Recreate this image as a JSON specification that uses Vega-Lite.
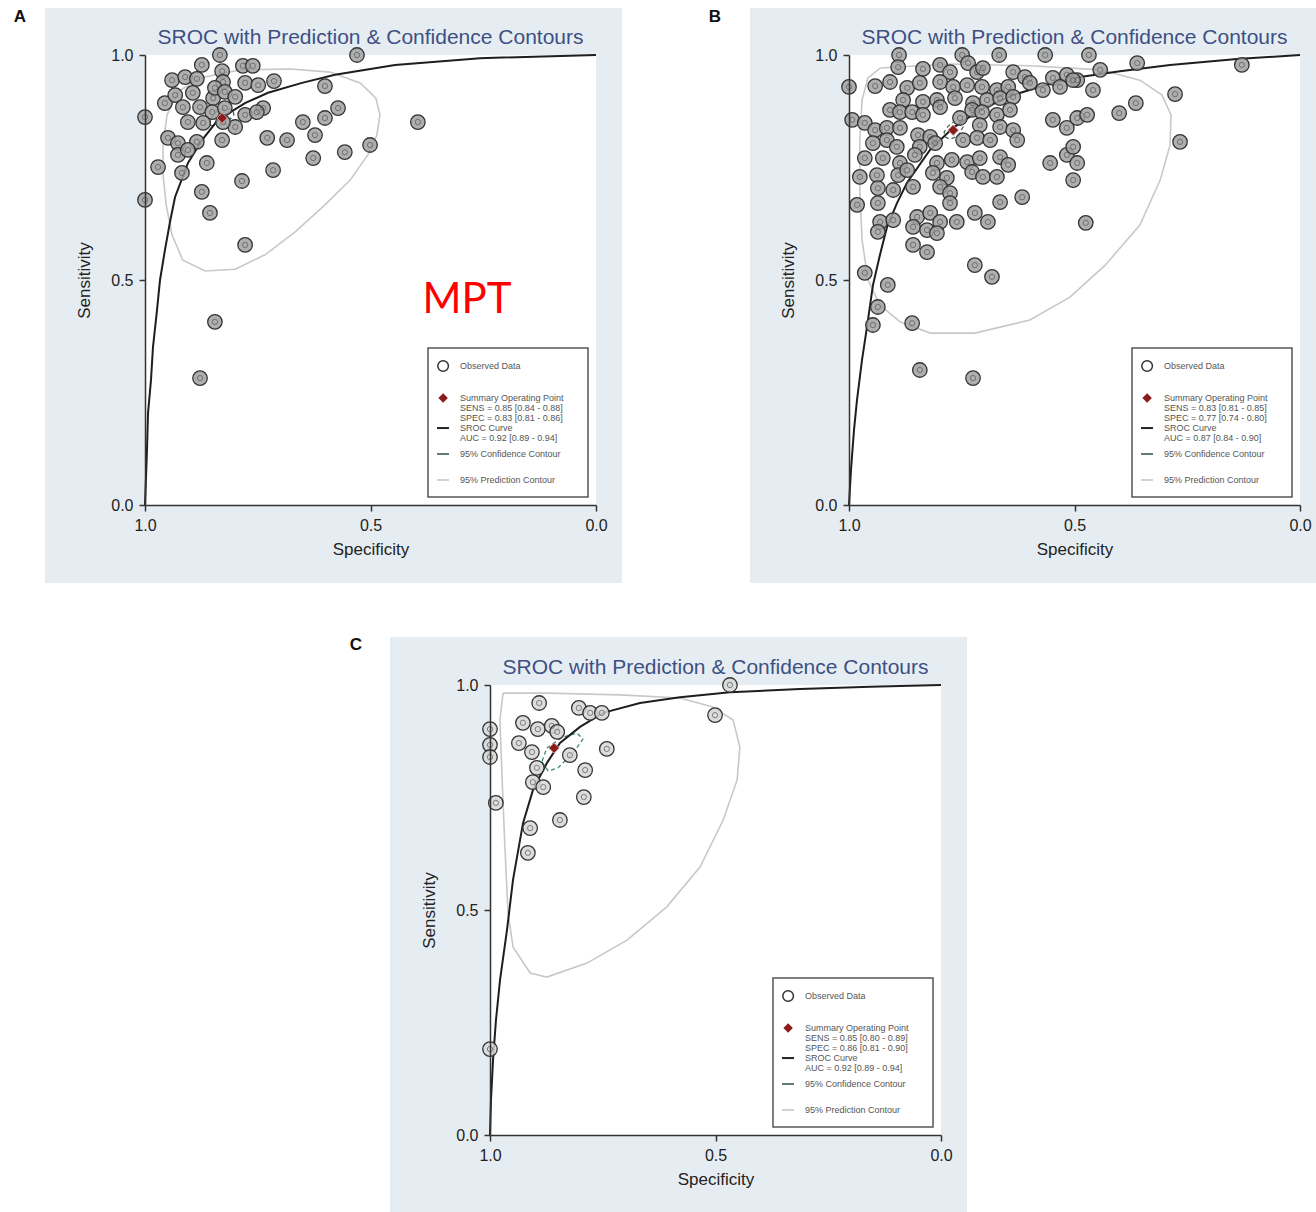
{
"$schema": "https://vega.github.io/schema/vega-lite/v6.json",
"padding": 0,
"background": "white",
"spacing": 52,
"config": {
  "view": {"stroke": null},
  "font": "Liberation Sans",
  "axis": {"domainColor": "#333", "domainWidth": 1.5, "tickColor": "#333", "tickWidth": 1.5, "tickSize": 6, "labelFontSize": 16, "labelColor": "#222", "titleFontSize": 17, "titleFontWeight": "normal", "titleColor": "#222", "grid": false, "labelFlush": false, "labelOverlap": false, "labelFont": "Liberation Sans", "titleFont": "Liberation Sans"},
  "axisX": {"labelPadding": 6, "titlePadding": 8},
  "axisY": {"labelPadding": 6, "titlePadding": 17, "labelAngle": 0}
},
"datasets": {
  "ptsA": [
    {"spec":0.834,"sens":1.0},{"spec":0.530,"sens":1.0},{"spec":0.874,"sens":0.978},{"spec":0.783,"sens":0.976},{"spec":0.761,"sens":0.976},{"spec":0.829,"sens":0.964},{"spec":0.940,"sens":0.944},{"spec":0.911,"sens":0.951},{"spec":0.885,"sens":0.947},{"spec":0.827,"sens":0.940},{"spec":0.778,"sens":0.938},{"spec":0.749,"sens":0.933},{"spec":0.714,"sens":0.942},{"spec":0.601,"sens":0.931},{"spec":0.956,"sens":0.893},{"spec":0.933,"sens":0.911},{"spec":0.894,"sens":0.916},{"spec":0.916,"sens":0.884},{"spec":0.878,"sens":0.884},{"spec":0.849,"sens":0.904},{"spec":0.845,"sens":0.927},{"spec":0.823,"sens":0.918},{"spec":0.800,"sens":0.907},{"spec":0.851,"sens":0.873},{"spec":0.823,"sens":0.882},{"spec":0.778,"sens":0.867},{"spec":0.738,"sens":0.882},{"spec":0.752,"sens":0.873},{"spec":0.905,"sens":0.851},{"spec":0.800,"sens":0.840},{"spec":0.827,"sens":0.851},{"spec":0.871,"sens":0.849},{"spec":0.572,"sens":0.882},{"spec":0.601,"sens":0.860},{"spec":0.650,"sens":0.851},{"spec":0.623,"sens":0.822},{"spec":0.729,"sens":0.816},{"spec":0.685,"sens":0.811},{"spec":0.829,"sens":0.811},{"spec":0.949,"sens":0.816},{"spec":0.927,"sens":0.804},{"spec":0.885,"sens":0.807},{"spec":0.927,"sens":0.778},{"spec":0.905,"sens":0.789},{"spec":0.501,"sens":0.800},{"spec":0.557,"sens":0.784},{"spec":0.627,"sens":0.771},{"spec":0.716,"sens":0.744},{"spec":0.863,"sens":0.760},{"spec":0.971,"sens":0.751},{"spec":0.918,"sens":0.738},{"spec":0.785,"sens":0.720},{"spec":0.874,"sens":0.696},{"spec":0.856,"sens":0.649},{"spec":0.778,"sens":0.578},{"spec":1.0,"sens":0.862},{"spec":1.0,"sens":0.678},{"spec":0.395,"sens":0.851},{"spec":0.845,"sens":0.407},{"spec":0.878,"sens":0.282}
  ],
  "curveA": [
    {"spec":1.0,"sens":0.0},{"spec":0.9956,"sens":0.122},{"spec":0.9933,"sens":0.204},{"spec":0.9867,"sens":0.278},{"spec":0.9823,"sens":0.351},{"spec":0.9734,"sens":0.433},{"spec":0.9667,"sens":0.5},{"spec":0.9557,"sens":0.567},{"spec":0.9446,"sens":0.629},{"spec":0.9335,"sens":0.684},{"spec":0.9047,"sens":0.76},{"spec":0.8736,"sens":0.811},{"spec":0.8381,"sens":0.856},{"spec":0.7783,"sens":0.893},{"spec":0.7273,"sens":0.916},{"spec":0.6519,"sens":0.938},{"spec":0.5787,"sens":0.956},{"spec":0.4457,"sens":0.978},{"spec":0.2572,"sens":0.993},{"spec":0.0,"sens":1.0}
  ],
  "predA": [
    {"i":0,"spec":0.789,"sens":0.967},{"i":1,"spec":0.678,"sens":0.969},{"i":2,"spec":0.590,"sens":0.962},{"i":3,"spec":0.523,"sens":0.938},{"i":4,"spec":0.488,"sens":0.904},{"i":5,"spec":0.479,"sens":0.867},{"i":6,"spec":0.486,"sens":0.822},{"i":7,"spec":0.506,"sens":0.778},{"i":8,"spec":0.545,"sens":0.722},{"i":9,"spec":0.601,"sens":0.667},{"i":10,"spec":0.667,"sens":0.607},{"i":11,"spec":0.734,"sens":0.556},{"i":12,"spec":0.800,"sens":0.524},{"i":13,"spec":0.867,"sens":0.520},{"i":14,"spec":0.916,"sens":0.544},{"i":15,"spec":0.940,"sens":0.600},{"i":16,"spec":0.953,"sens":0.667},{"i":17,"spec":0.960,"sens":0.733},{"i":18,"spec":0.960,"sens":0.800},{"i":19,"spec":0.951,"sens":0.867},{"i":20,"spec":0.927,"sens":0.918},{"i":21,"spec":0.878,"sens":0.949},{"i":22,"spec":0.789,"sens":0.967}
  ],
  "confA": [
    {"i":0,"spec":0.856,"sens":0.844},{"i":1,"spec":0.843,"sens":0.840},{"i":2,"spec":0.820,"sens":0.847},{"i":3,"spec":0.803,"sens":0.867},{"i":4,"spec":0.805,"sens":0.878},{"i":5,"spec":0.820,"sens":0.882},{"i":6,"spec":0.843,"sens":0.873},{"i":7,"spec":0.856,"sens":0.856},{"i":8,"spec":0.856,"sens":0.844}
  ],
  "ptsB": [
    {"spec":0.889,"sens":1.0},{"spec":0.749,"sens":1.0},{"spec":0.667,"sens":1.0},{"spec":0.565,"sens":1.0},{"spec":0.891,"sens":0.973},{"spec":0.836,"sens":0.969},{"spec":0.798,"sens":0.978},{"spec":0.776,"sens":0.962},{"spec":0.736,"sens":0.982},{"spec":0.716,"sens":0.962},{"spec":0.703,"sens":0.971},{"spec":0.636,"sens":0.962},{"spec":0.610,"sens":0.951},{"spec":0.548,"sens":0.949},{"spec":0.517,"sens":0.956},{"spec":0.494,"sens":0.944},{"spec":0.942,"sens":0.931},{"spec":0.909,"sens":0.940},{"spec":0.871,"sens":0.927},{"spec":0.843,"sens":0.938},{"spec":0.798,"sens":0.940},{"spec":0.769,"sens":0.929},{"spec":0.738,"sens":0.933},{"spec":0.705,"sens":0.929},{"spec":0.672,"sens":0.922},{"spec":0.647,"sens":0.929},{"spec":0.599,"sens":0.938},{"spec":0.570,"sens":0.922},{"spec":0.532,"sens":0.929},{"spec":1.0,"sens":0.929},{"spec":0.880,"sens":0.900},{"spec":0.836,"sens":0.896},{"spec":0.805,"sens":0.900},{"spec":0.765,"sens":0.904},{"spec":0.725,"sens":0.893},{"spec":0.694,"sens":0.900},{"spec":0.665,"sens":0.904},{"spec":0.636,"sens":0.907},{"spec":0.909,"sens":0.878},{"spec":0.887,"sens":0.873},{"spec":0.860,"sens":0.873},{"spec":0.836,"sens":0.867},{"spec":0.798,"sens":0.884},{"spec":0.727,"sens":0.878},{"spec":0.705,"sens":0.873},{"spec":0.672,"sens":0.867},{"spec":0.643,"sens":0.878},{"spec":0.993,"sens":0.856},{"spec":0.965,"sens":0.849},{"spec":0.942,"sens":0.833},{"spec":0.916,"sens":0.838},{"spec":0.887,"sens":0.838},{"spec":0.847,"sens":0.822},{"spec":0.820,"sens":0.818},{"spec":0.754,"sens":0.860},{"spec":0.710,"sens":0.844},{"spec":0.665,"sens":0.840},{"spec":0.636,"sens":0.833},{"spec":0.548,"sens":0.856},{"spec":0.517,"sens":0.838},{"spec":0.494,"sens":0.860},{"spec":0.947,"sens":0.804},{"spec":0.916,"sens":0.811},{"spec":0.894,"sens":0.796},{"spec":0.843,"sens":0.796},{"spec":0.809,"sens":0.804},{"spec":0.747,"sens":0.811},{"spec":0.716,"sens":0.816},{"spec":0.687,"sens":0.811},{"spec":0.627,"sens":0.811},{"spec":0.965,"sens":0.771},{"spec":0.925,"sens":0.771},{"spec":0.887,"sens":0.760},{"spec":0.854,"sens":0.778},{"spec":0.805,"sens":0.760},{"spec":0.772,"sens":0.767},{"spec":0.738,"sens":0.762},{"spec":0.710,"sens":0.771},{"spec":0.665,"sens":0.773},{"spec":0.647,"sens":0.756},{"spec":0.554,"sens":0.760},{"spec":0.517,"sens":0.778},{"spec":0.494,"sens":0.760},{"spec":0.976,"sens":0.729},{"spec":0.938,"sens":0.733},{"spec":0.891,"sens":0.733},{"spec":0.871,"sens":0.744},{"spec":0.814,"sens":0.738},{"spec":0.783,"sens":0.727},{"spec":0.727,"sens":0.740},{"spec":0.703,"sens":0.729},{"spec":0.672,"sens":0.729},{"spec":0.503,"sens":0.722},{"spec":0.936,"sens":0.704},{"spec":0.902,"sens":0.700},{"spec":0.858,"sens":0.707},{"spec":0.798,"sens":0.707},{"spec":0.776,"sens":0.693},{"spec":0.665,"sens":0.673},{"spec":0.616,"sens":0.684},{"spec":0.982,"sens":0.667},{"spec":0.936,"sens":0.671},{"spec":0.776,"sens":0.671},{"spec":0.931,"sens":0.629},{"spec":0.902,"sens":0.633},{"spec":0.849,"sens":0.640},{"spec":0.820,"sens":0.649},{"spec":0.798,"sens":0.629},{"spec":0.761,"sens":0.629},{"spec":0.721,"sens":0.649},{"spec":0.692,"sens":0.629},{"spec":0.858,"sens":0.618},{"spec":0.827,"sens":0.611},{"spec":0.805,"sens":0.604},{"spec":0.936,"sens":0.607},{"spec":0.858,"sens":0.578},{"spec":0.827,"sens":0.562},{"spec":0.721,"sens":0.533},{"spec":0.683,"sens":0.507},{"spec":0.965,"sens":0.516},{"spec":0.914,"sens":0.489},{"spec":0.936,"sens":0.440},{"spec":0.860,"sens":0.404},{"spec":0.947,"sens":0.400},{"spec":0.843,"sens":0.300},{"spec":0.725,"sens":0.282},{"spec":0.468,"sens":1.0},{"spec":0.443,"sens":0.967},{"spec":0.361,"sens":0.982},{"spec":0.129,"sens":0.978},{"spec":0.503,"sens":0.944},{"spec":0.459,"sens":0.922},{"spec":0.472,"sens":0.867},{"spec":0.401,"sens":0.871},{"spec":0.364,"sens":0.893},{"spec":0.277,"sens":0.913},{"spec":0.266,"sens":0.807},{"spec":0.503,"sens":0.796},{"spec":0.475,"sens":0.627}
  ],
  "curveB": [
    {"spec":1.0,"sens":0.0},{"spec":0.9956,"sens":0.078},{"spec":0.9889,"sens":0.167},{"spec":0.9823,"sens":0.233},{"spec":0.9712,"sens":0.322},{"spec":0.9601,"sens":0.396},{"spec":0.9468,"sens":0.489},{"spec":0.9313,"sens":0.556},{"spec":0.9157,"sens":0.618},{"spec":0.8936,"sens":0.671},{"spec":0.8714,"sens":0.716},{"spec":0.8204,"sens":0.789},{"spec":0.7694,"sens":0.838},{"spec":0.7095,"sens":0.878},{"spec":0.6364,"sens":0.911},{"spec":0.5477,"sens":0.938},{"spec":0.4878,"sens":0.951},{"spec":0.3991,"sens":0.964},{"spec":0.2882,"sens":0.978},{"spec":0.1397,"sens":0.991},{"spec":0.0,"sens":1.0}
  ],
  "predB": [
    {"i":0,"spec":0.931,"sens":0.971},{"i":1,"spec":0.776,"sens":0.980},{"i":2,"spec":0.599,"sens":0.976},{"i":3,"spec":0.443,"sens":0.967},{"i":4,"spec":0.355,"sens":0.944},{"i":5,"spec":0.306,"sens":0.911},{"i":6,"spec":0.286,"sens":0.867},{"i":7,"spec":0.288,"sens":0.800},{"i":8,"spec":0.310,"sens":0.722},{"i":9,"spec":0.355,"sens":0.622},{"i":10,"spec":0.432,"sens":0.533},{"i":11,"spec":0.510,"sens":0.462},{"i":12,"spec":0.599,"sens":0.411},{"i":13,"spec":0.721,"sens":0.382},{"i":14,"spec":0.820,"sens":0.382},{"i":15,"spec":0.887,"sens":0.407},{"i":16,"spec":0.931,"sens":0.444},{"i":17,"spec":0.958,"sens":0.500},{"i":18,"spec":0.971,"sens":0.589},{"i":19,"spec":0.976,"sens":0.700},{"i":20,"spec":0.976,"sens":0.811},{"i":21,"spec":0.971,"sens":0.900},{"i":22,"spec":0.958,"sens":0.949},{"i":23,"spec":0.931,"sens":0.971}
  ],
  "confB": [
    {"i":0,"spec":0.787,"sens":0.818},{"i":1,"spec":0.776,"sens":0.813},{"i":2,"spec":0.758,"sens":0.820},{"i":3,"spec":0.747,"sens":0.840},{"i":4,"spec":0.752,"sens":0.851},{"i":5,"spec":0.765,"sens":0.853},{"i":6,"spec":0.780,"sens":0.842},{"i":7,"spec":0.789,"sens":0.829},{"i":8,"spec":0.787,"sens":0.818}
  ],
  "ptsC": [
    {"spec":0.891,"sens":0.960},{"spec":0.803,"sens":0.949},{"spec":0.778,"sens":0.938},{"spec":0.752,"sens":0.938},{"spec":0.468,"sens":1.0},{"spec":0.501,"sens":0.933},{"spec":0.927,"sens":0.916},{"spec":0.894,"sens":0.902},{"spec":0.863,"sens":0.909},{"spec":0.851,"sens":0.896},{"spec":1.0,"sens":0.902},{"spec":1.0,"sens":0.867},{"spec":1.0,"sens":0.840},{"spec":0.936,"sens":0.871},{"spec":0.907,"sens":0.851},{"spec":0.823,"sens":0.844},{"spec":0.741,"sens":0.858},{"spec":0.896,"sens":0.816},{"spec":0.789,"sens":0.811},{"spec":0.905,"sens":0.784},{"spec":0.882,"sens":0.773},{"spec":0.792,"sens":0.751},{"spec":0.987,"sens":0.738},{"spec":0.845,"sens":0.700},{"spec":0.911,"sens":0.682},{"spec":0.916,"sens":0.627},{"spec":1.0,"sens":0.191}
  ],
  "curveC": [
    {"spec":1.0,"sens":0.0},{"spec":0.9978,"sens":0.078},{"spec":0.9933,"sens":0.167},{"spec":0.9867,"sens":0.256},{"spec":0.9778,"sens":0.344},{"spec":0.9623,"sens":0.456},{"spec":0.9490,"sens":0.567},{"spec":0.9268,"sens":0.693},{"spec":0.9047,"sens":0.767},{"spec":0.8736,"sens":0.827},{"spec":0.8448,"sens":0.871},{"spec":0.8004,"sens":0.907},{"spec":0.7494,"sens":0.938},{"spec":0.6674,"sens":0.960},{"spec":0.5787,"sens":0.973},{"spec":0.4678,"sens":0.984},{"spec":0.3126,"sens":0.991},{"spec":0.1574,"sens":0.996},{"spec":0.0,"sens":1.0}
  ],
  "predC": [
    {"i":0,"spec":0.971,"sens":0.982},{"i":1,"spec":0.874,"sens":0.982},{"i":2,"spec":0.712,"sens":0.978},{"i":3,"spec":0.579,"sens":0.971},{"i":4,"spec":0.506,"sens":0.951},{"i":5,"spec":0.461,"sens":0.922},{"i":6,"spec":0.446,"sens":0.862},{"i":7,"spec":0.452,"sens":0.789},{"i":8,"spec":0.483,"sens":0.700},{"i":9,"spec":0.534,"sens":0.596},{"i":10,"spec":0.608,"sens":0.507},{"i":11,"spec":0.696,"sens":0.433},{"i":12,"spec":0.785,"sens":0.382},{"i":13,"spec":0.874,"sens":0.351},{"i":14,"spec":0.911,"sens":0.360},{"i":15,"spec":0.949,"sens":0.418},{"i":16,"spec":0.960,"sens":0.493},{"i":17,"spec":0.967,"sens":0.640},{"i":18,"spec":0.973,"sens":0.789},{"i":19,"spec":0.978,"sens":0.922},{"i":20,"spec":0.973,"sens":0.967},{"i":21,"spec":0.971,"sens":0.982}
  ],
  "confC": [
    {"i":0,"spec":0.885,"sens":0.829},{"i":1,"spec":0.871,"sens":0.809},{"i":2,"spec":0.849,"sens":0.816},{"i":3,"spec":0.814,"sens":0.851},{"i":4,"spec":0.794,"sens":0.880},{"i":5,"spec":0.807,"sens":0.893},{"i":6,"spec":0.840,"sens":0.884},{"i":7,"spec":0.874,"sens":0.860},{"i":8,"spec":0.885,"sens":0.829}
  ]
},
"vconcat": [
 {"hconcat": [
  {
   "width": 451, "height": 450,
   "data": {"values": [{}]},
   "layer": [
    {"mark": {"type": "rect", "fill": "white"}, "encoding": {
      "x": {"datum": 1.3215, "type": "quantitative", "scale": {"domain": [0, 1], "reverse": true, "nice": false, "zero": false}, "axis": {"title": "Specificity", "values": [0, 0.5, 1], "format": ".1f", "zindex": 2}},
      "x2": {"datum": 1.31},
      "y": {"datum": 1.1222, "type": "quantitative", "scale": {"domain": [0, 1], "nice": false, "zero": false}, "axis": {"title": "Sensitivity", "values": [0, 0.5, 1], "format": ".1f", "zindex": 2}},
      "y2": {"datum": 1.11}}},
    {"mark": {"type": "rect", "fill": "#e6edf2"}, "encoding": {"x": {"datum": 1.2217, "type": "quantitative"}, "x2": {"datum": -0.0576}, "y": {"datum": 1.1044, "type": "quantitative"}, "y2": {"datum": -0.1733}}},
    {"mark": {"type": "rect", "fill": "white"}, "encoding": {"x": {"datum": 1, "type": "quantitative"}, "x2": {"datum": 0}, "y": {"datum": 0, "type": "quantitative"}, "y2": {"datum": 1}}},
    {"mark": {"type": "text", "align": "center", "baseline": "middle", "fontSize": 21, "color": "#3e5083"}, "encoding": {"x": {"datum": 0.5, "type": "quantitative"}, "y": {"datum": 1.0378, "type": "quantitative"}, "text": {"value": "SROC with Prediction & Confidence Contours"}}},
    {"data": {"name": "predA"}, "mark": {"type": "line", "stroke": "#c8c8c8", "strokeWidth": 1.6}, "encoding": {"x": {"field": "spec", "type": "quantitative"}, "y": {"field": "sens", "type": "quantitative"}, "order": {"field": "i", "type": "quantitative"}}},
    {"data": {"name": "confA"}, "mark": {"type": "line", "stroke": "#3d6b55", "strokeWidth": 1.3, "strokeDash": [4, 3]}, "encoding": {"x": {"field": "spec", "type": "quantitative"}, "y": {"field": "sens", "type": "quantitative"}, "order": {"field": "i", "type": "quantitative"}}},
    {"data": {"name": "curveA"}, "mark": {"type": "line", "stroke": "#1e1e1e", "strokeWidth": 2}, "encoding": {"x": {"field": "spec", "type": "quantitative"}, "y": {"field": "sens", "type": "quantitative"}}},
    {"data": {"name": "ptsA"}, "mark": {"type": "point", "shape": "circle", "filled": true, "size": 210, "fill": "#a0a0a0", "fillOpacity": 0.85, "stroke": "#333", "strokeWidth": 1.3}, "encoding": {"x": {"field": "spec", "type": "quantitative"}, "y": {"field": "sens", "type": "quantitative"}}},
    {"data": {"name": "ptsA"}, "mark": {"type": "point", "shape": "circle", "filled": false, "size": 28, "stroke": "#5a5a5a", "strokeWidth": 0.8, "opacity": 0.9}, "encoding": {"x": {"field": "spec", "type": "quantitative"}, "y": {"field": "sens", "type": "quantitative"}}},
    {"data": {"values": [{"spec": 0.829, "sens": 0.86}]}, "mark": {"type": "point", "shape": "diamond", "filled": true, "size": 110, "fill": "#8c1c1c", "stroke": "#c9a0a0", "strokeWidth": 1, "opacity": 1}, "encoding": {"x": {"field": "spec", "type": "quantitative"}, "y": {"field": "sens", "type": "quantitative"}}},
    {"mark": {"type": "rect", "fill": "white", "stroke": "#555", "strokeWidth": 1.5}, "encoding": {"x": {"datum": 0.3725, "type": "quantitative"}, "x2": {"datum": 0.0177}, "y": {"datum": 0.349, "type": "quantitative"}, "y2": {"datum": 0.018}}},
    {"mark": {"type": "point", "shape": "circle", "filled": false, "size": 113, "stroke": "#333", "strokeWidth": 1.5, "opacity": 1}, "encoding": {"x": {"datum": 0.339, "type": "quantitative"}, "y": {"datum": 0.309, "type": "quantitative"}}},
    {"mark": {"type": "point", "shape": "diamond", "filled": true, "size": 90, "fill": "#8c1c1c", "opacity": 1}, "encoding": {"x": {"datum": 0.339, "type": "quantitative"}, "y": {"datum": 0.238, "type": "quantitative"}}},
    {"mark": {"type": "rule", "stroke": "#222", "strokeWidth": 2}, "encoding": {"x": {"datum": 0.3525, "type": "quantitative"}, "x2": {"datum": 0.326}, "y": {"datum": 0.171, "type": "quantitative"}}},
    {"mark": {"type": "rule", "stroke": "#3d5a4d", "strokeWidth": 1.6}, "encoding": {"x": {"datum": 0.3525, "type": "quantitative"}, "x2": {"datum": 0.326}, "y": {"datum": 0.1133, "type": "quantitative"}}},
    {"mark": {"type": "rule", "stroke": "#c8c8c8", "strokeWidth": 1.6}, "encoding": {"x": {"datum": 0.3525, "type": "quantitative"}, "x2": {"datum": 0.326}, "y": {"datum": 0.0556, "type": "quantitative"}}},
    {"mark": {"type": "text", "align": "left", "baseline": "middle", "fontSize": 9, "color": "#555"}, "encoding": {"x": {"datum": 0.3016, "type": "quantitative"}, "y": {"datum": 0.309, "type": "quantitative"}, "text": {"value": "Observed Data"}}},
    {"mark": {"type": "text", "align": "left", "baseline": "middle", "fontSize": 9, "color": "#555", "lineBreak": "\n", "lineHeight": 10}, "encoding": {"x": {"datum": 0.3016, "type": "quantitative"}, "y": {"datum": 0.238, "type": "quantitative"}, "text": {"value": "Summary Operating Point\nSENS = 0.85 [0.84 - 0.88]\nSPEC = 0.83 [0.81 - 0.86]"}}},
    {"mark": {"type": "text", "align": "left", "baseline": "middle", "fontSize": 9, "color": "#555", "lineBreak": "\n", "lineHeight": 10}, "encoding": {"x": {"datum": 0.3016, "type": "quantitative"}, "y": {"datum": 0.171, "type": "quantitative"}, "text": {"value": "SROC Curve\nAUC = 0.92 [0.89 - 0.94]"}}},
    {"mark": {"type": "text", "align": "left", "baseline": "middle", "fontSize": 9, "color": "#555"}, "encoding": {"x": {"datum": 0.3016, "type": "quantitative"}, "y": {"datum": 0.1133, "type": "quantitative"}, "text": {"value": "95% Confidence Contour"}}},
    {"mark": {"type": "text", "align": "left", "baseline": "middle", "fontSize": 9, "color": "#555"}, "encoding": {"x": {"datum": 0.3016, "type": "quantitative"}, "y": {"datum": 0.0556, "type": "quantitative"}, "text": {"value": "95% Prediction Contour"}}},
    {"mark": {"type": "text", "align": "center", "baseline": "middle", "fontSize": 17, "fontWeight": "bold", "color": "#111"}, "encoding": {"x": {"datum": 1.2772, "type": "quantitative"}, "y": {"datum": 1.0844, "type": "quantitative"}, "text": {"value": "A"}}},
    {"mark": {"type": "text", "align": "center", "baseline": "middle", "fontSize": 42, "font": "Lato", "color": "#ff0000"}, "encoding": {"x": {"datum": 0.286, "type": "quantitative"}, "y": {"datum": 0.456, "type": "quantitative"}, "text": {"value": "MPT"}}}
   ]
  },
  {
   "width": 451, "height": 450,
   "data": {"values": [{}]},
   "layer": [
    {"mark": {"type": "rect", "fill": "#e6edf2"}, "encoding": {
      "x": {"datum": 1.2195, "type": "quantitative", "scale": {"domain": [0, 1], "reverse": true, "nice": false, "zero": false}, "axis": {"title": "Specificity", "values": [0, 0.5, 1], "format": ".1f", "zindex": 2}},
      "x2": {"datum": -0.0355},
      "y": {"datum": 1.1044, "type": "quantitative", "scale": {"domain": [0, 1], "nice": false, "zero": false}, "axis": {"title": "Sensitivity", "values": [0, 0.5, 1], "format": ".1f", "zindex": 2}},
      "y2": {"datum": -0.1733}}},
    {"mark": {"type": "rect", "fill": "white"}, "encoding": {"x": {"datum": 1, "type": "quantitative"}, "x2": {"datum": 0}, "y": {"datum": 0, "type": "quantitative"}, "y2": {"datum": 1}}},
    {"mark": {"type": "text", "align": "center", "baseline": "middle", "fontSize": 21, "color": "#3e5083"}, "encoding": {"x": {"datum": 0.5, "type": "quantitative"}, "y": {"datum": 1.0378, "type": "quantitative"}, "text": {"value": "SROC with Prediction & Confidence Contours"}}},
    {"data": {"name": "predB"}, "mark": {"type": "line", "stroke": "#c8c8c8", "strokeWidth": 1.6}, "encoding": {"x": {"field": "spec", "type": "quantitative"}, "y": {"field": "sens", "type": "quantitative"}, "order": {"field": "i", "type": "quantitative"}}},
    {"data": {"name": "confB"}, "mark": {"type": "line", "stroke": "#3d6b55", "strokeWidth": 1.3, "strokeDash": [4, 3]}, "encoding": {"x": {"field": "spec", "type": "quantitative"}, "y": {"field": "sens", "type": "quantitative"}, "order": {"field": "i", "type": "quantitative"}}},
    {"data": {"name": "curveB"}, "mark": {"type": "line", "stroke": "#1e1e1e", "strokeWidth": 2}, "encoding": {"x": {"field": "spec", "type": "quantitative"}, "y": {"field": "sens", "type": "quantitative"}}},
    {"data": {"name": "ptsB"}, "mark": {"type": "point", "shape": "circle", "filled": true, "size": 210, "fill": "#a0a0a0", "fillOpacity": 0.85, "stroke": "#333", "strokeWidth": 1.3}, "encoding": {"x": {"field": "spec", "type": "quantitative"}, "y": {"field": "sens", "type": "quantitative"}}},
    {"data": {"name": "ptsB"}, "mark": {"type": "point", "shape": "circle", "filled": false, "size": 28, "stroke": "#5a5a5a", "strokeWidth": 0.8, "opacity": 0.9}, "encoding": {"x": {"field": "spec", "type": "quantitative"}, "y": {"field": "sens", "type": "quantitative"}}},
    {"data": {"values": [{"spec": 0.769, "sens": 0.833}]}, "mark": {"type": "point", "shape": "diamond", "filled": true, "size": 110, "fill": "#8c1c1c", "stroke": "#c9a0a0", "strokeWidth": 1, "opacity": 1}, "encoding": {"x": {"field": "spec", "type": "quantitative"}, "y": {"field": "sens", "type": "quantitative"}}},
    {"mark": {"type": "rect", "fill": "white", "stroke": "#555", "strokeWidth": 1.5}, "encoding": {"x": {"datum": 0.3725, "type": "quantitative"}, "x2": {"datum": 0.0177}, "y": {"datum": 0.349, "type": "quantitative"}, "y2": {"datum": 0.018}}},
    {"mark": {"type": "point", "shape": "circle", "filled": false, "size": 113, "stroke": "#333", "strokeWidth": 1.5, "opacity": 1}, "encoding": {"x": {"datum": 0.339, "type": "quantitative"}, "y": {"datum": 0.309, "type": "quantitative"}}},
    {"mark": {"type": "point", "shape": "diamond", "filled": true, "size": 90, "fill": "#8c1c1c", "opacity": 1}, "encoding": {"x": {"datum": 0.339, "type": "quantitative"}, "y": {"datum": 0.238, "type": "quantitative"}}},
    {"mark": {"type": "rule", "stroke": "#222", "strokeWidth": 2}, "encoding": {"x": {"datum": 0.3525, "type": "quantitative"}, "x2": {"datum": 0.326}, "y": {"datum": 0.171, "type": "quantitative"}}},
    {"mark": {"type": "rule", "stroke": "#3d5a4d", "strokeWidth": 1.6}, "encoding": {"x": {"datum": 0.3525, "type": "quantitative"}, "x2": {"datum": 0.326}, "y": {"datum": 0.1133, "type": "quantitative"}}},
    {"mark": {"type": "rule", "stroke": "#c8c8c8", "strokeWidth": 1.6}, "encoding": {"x": {"datum": 0.3525, "type": "quantitative"}, "x2": {"datum": 0.326}, "y": {"datum": 0.0556, "type": "quantitative"}}},
    {"mark": {"type": "text", "align": "left", "baseline": "middle", "fontSize": 9, "color": "#555"}, "encoding": {"x": {"datum": 0.3016, "type": "quantitative"}, "y": {"datum": 0.309, "type": "quantitative"}, "text": {"value": "Observed Data"}}},
    {"mark": {"type": "text", "align": "left", "baseline": "middle", "fontSize": 9, "color": "#555", "lineBreak": "\n", "lineHeight": 10}, "encoding": {"x": {"datum": 0.3016, "type": "quantitative"}, "y": {"datum": 0.238, "type": "quantitative"}, "text": {"value": "Summary Operating Point\nSENS = 0.83 [0.81 - 0.85]\nSPEC = 0.77 [0.74 - 0.80]"}}},
    {"mark": {"type": "text", "align": "left", "baseline": "middle", "fontSize": 9, "color": "#555", "lineBreak": "\n", "lineHeight": 10}, "encoding": {"x": {"datum": 0.3016, "type": "quantitative"}, "y": {"datum": 0.171, "type": "quantitative"}, "text": {"value": "SROC Curve\nAUC = 0.87 [0.84 - 0.90]"}}},
    {"mark": {"type": "text", "align": "left", "baseline": "middle", "fontSize": 9, "color": "#555"}, "encoding": {"x": {"datum": 0.3016, "type": "quantitative"}, "y": {"datum": 0.1133, "type": "quantitative"}, "text": {"value": "95% Confidence Contour"}}},
    {"mark": {"type": "text", "align": "left", "baseline": "middle", "fontSize": 9, "color": "#555"}, "encoding": {"x": {"datum": 0.3016, "type": "quantitative"}, "y": {"datum": 0.0556, "type": "quantitative"}, "text": {"value": "95% Prediction Contour"}}},
    {"mark": {"type": "text", "align": "center", "baseline": "middle", "fontSize": 17, "fontWeight": "bold", "color": "#111"}, "encoding": {"x": {"datum": 1.2971, "type": "quantitative"}, "y": {"datum": 1.0844, "type": "quantitative"}, "text": {"value": "B"}}}
   ]
  }
 ], "spacing": 253, "bounds": "flush"},
 {"hconcat": [
  {"width": 92, "height": 450, "data": {"values": [{}]}, "mark": {"type": "point", "opacity": 0}},
  {
   "width": 451, "height": 450,
   "data": {"values": [{}]},
   "layer": [
    {"mark": {"type": "rect", "fill": "#e6edf2"}, "encoding": {
      "x": {"datum": 1.2217, "type": "quantitative", "scale": {"domain": [0, 1], "reverse": true, "nice": false, "zero": false}, "axis": {"title": "Specificity", "values": [0, 0.5, 1], "format": ".1f", "zindex": 2}},
      "x2": {"datum": -0.0576},
      "y": {"datum": 1.1067, "type": "quantitative", "scale": {"domain": [0, 1], "nice": false, "zero": false}, "axis": {"title": "Sensitivity", "values": [0, 0.5, 1], "format": ".1f", "zindex": 2}},
      "y2": {"datum": -0.171}}},
    {"mark": {"type": "rect", "fill": "white"}, "encoding": {"x": {"datum": 1, "type": "quantitative"}, "x2": {"datum": 0}, "y": {"datum": 0, "type": "quantitative"}, "y2": {"datum": 1}}},
    {"mark": {"type": "text", "align": "center", "baseline": "middle", "fontSize": 21, "color": "#3e5083"}, "encoding": {"x": {"datum": 0.5, "type": "quantitative"}, "y": {"datum": 1.0378, "type": "quantitative"}, "text": {"value": "SROC with Prediction & Confidence Contours"}}},
    {"data": {"name": "predC"}, "mark": {"type": "line", "stroke": "#c8c8c8", "strokeWidth": 1.6}, "encoding": {"x": {"field": "spec", "type": "quantitative"}, "y": {"field": "sens", "type": "quantitative"}, "order": {"field": "i", "type": "quantitative"}}},
    {"data": {"name": "confC"}, "mark": {"type": "line", "stroke": "#3d8a65", "strokeWidth": 1.3, "strokeDash": [4, 3]}, "encoding": {"x": {"field": "spec", "type": "quantitative"}, "y": {"field": "sens", "type": "quantitative"}, "order": {"field": "i", "type": "quantitative"}}},
    {"data": {"name": "curveC"}, "mark": {"type": "line", "stroke": "#1e1e1e", "strokeWidth": 2}, "encoding": {"x": {"field": "spec", "type": "quantitative"}, "y": {"field": "sens", "type": "quantitative"}}},
    {"data": {"name": "ptsC"}, "mark": {"type": "point", "shape": "circle", "filled": true, "size": 210, "fill": "#d6d6d6", "fillOpacity": 0.85, "stroke": "#333", "strokeWidth": 1.3}, "encoding": {"x": {"field": "spec", "type": "quantitative"}, "y": {"field": "sens", "type": "quantitative"}}},
    {"data": {"name": "ptsC"}, "mark": {"type": "point", "shape": "circle", "filled": false, "size": 28, "stroke": "#5a5a5a", "strokeWidth": 0.8, "opacity": 0.9}, "encoding": {"x": {"field": "spec", "type": "quantitative"}, "y": {"field": "sens", "type": "quantitative"}}},
    {"data": {"values": [{"spec": 0.858, "sens": 0.86}]}, "mark": {"type": "point", "shape": "diamond", "filled": true, "size": 110, "fill": "#8c1c1c", "stroke": "#c9a0a0", "strokeWidth": 1, "opacity": 1}, "encoding": {"x": {"field": "spec", "type": "quantitative"}, "y": {"field": "sens", "type": "quantitative"}}},
    {"mark": {"type": "rect", "fill": "white", "stroke": "#555", "strokeWidth": 1.5}, "encoding": {"x": {"datum": 0.3725, "type": "quantitative"}, "x2": {"datum": 0.0177}, "y": {"datum": 0.349, "type": "quantitative"}, "y2": {"datum": 0.018}}},
    {"mark": {"type": "point", "shape": "circle", "filled": false, "size": 113, "stroke": "#333", "strokeWidth": 1.5, "opacity": 1}, "encoding": {"x": {"datum": 0.339, "type": "quantitative"}, "y": {"datum": 0.309, "type": "quantitative"}}},
    {"mark": {"type": "point", "shape": "diamond", "filled": true, "size": 90, "fill": "#8c1c1c", "opacity": 1}, "encoding": {"x": {"datum": 0.339, "type": "quantitative"}, "y": {"datum": 0.238, "type": "quantitative"}}},
    {"mark": {"type": "rule", "stroke": "#222", "strokeWidth": 2}, "encoding": {"x": {"datum": 0.3525, "type": "quantitative"}, "x2": {"datum": 0.326}, "y": {"datum": 0.171, "type": "quantitative"}}},
    {"mark": {"type": "rule", "stroke": "#3d5a4d", "strokeWidth": 1.6}, "encoding": {"x": {"datum": 0.3525, "type": "quantitative"}, "x2": {"datum": 0.326}, "y": {"datum": 0.1133, "type": "quantitative"}}},
    {"mark": {"type": "rule", "stroke": "#c8c8c8", "strokeWidth": 1.6}, "encoding": {"x": {"datum": 0.3525, "type": "quantitative"}, "x2": {"datum": 0.326}, "y": {"datum": 0.0556, "type": "quantitative"}}},
    {"mark": {"type": "text", "align": "left", "baseline": "middle", "fontSize": 9, "color": "#555"}, "encoding": {"x": {"datum": 0.3016, "type": "quantitative"}, "y": {"datum": 0.309, "type": "quantitative"}, "text": {"value": "Observed Data"}}},
    {"mark": {"type": "text", "align": "left", "baseline": "middle", "fontSize": 9, "color": "#555", "lineBreak": "\n", "lineHeight": 10}, "encoding": {"x": {"datum": 0.3016, "type": "quantitative"}, "y": {"datum": 0.238, "type": "quantitative"}, "text": {"value": "Summary Operating Point\nSENS = 0.85 [0.80 - 0.89]\nSPEC = 0.86 [0.81 - 0.90]"}}},
    {"mark": {"type": "text", "align": "left", "baseline": "middle", "fontSize": 9, "color": "#555", "lineBreak": "\n", "lineHeight": 10}, "encoding": {"x": {"datum": 0.3016, "type": "quantitative"}, "y": {"datum": 0.171, "type": "quantitative"}, "text": {"value": "SROC Curve\nAUC = 0.92 [0.89 - 0.94]"}}},
    {"mark": {"type": "text", "align": "left", "baseline": "middle", "fontSize": 9, "color": "#555"}, "encoding": {"x": {"datum": 0.3016, "type": "quantitative"}, "y": {"datum": 0.1133, "type": "quantitative"}, "text": {"value": "95% Confidence Contour"}}},
    {"mark": {"type": "text", "align": "left", "baseline": "middle", "fontSize": 9, "color": "#555"}, "encoding": {"x": {"datum": 0.3016, "type": "quantitative"}, "y": {"datum": 0.0556, "type": "quantitative"}, "text": {"value": "95% Prediction Contour"}}},
    {"mark": {"type": "text", "align": "center", "baseline": "middle", "fontSize": 17, "fontWeight": "bold", "color": "#111"}, "encoding": {"x": {"datum": 1.2971, "type": "quantitative"}, "y": {"datum": 1.0889, "type": "quantitative"}, "text": {"value": "C"}}}
   ]
  }
 ], "spacing": 253, "bounds": "flush"}
]
}
